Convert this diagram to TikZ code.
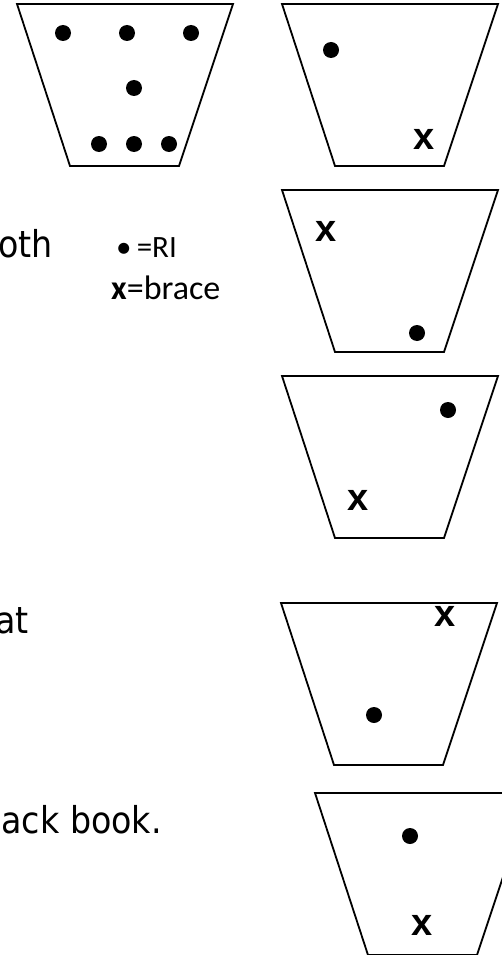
\documentclass[tikz,border=0pt]{standalone}
\usepackage{fontspec}
\setmainfont{DejaVu Sans Condensed}
\newfontfamily\legfont{Carlito}
\newfontfamily\xfont{Liberation Sans}
\newcommand\mytrap[3]{\draw[tray] (#1,#2) coordinate (#3) -- ++(216,0) -- ++(-54,162) -- ++(-109,0) -- cycle;}
\begin{document}
\begin{tikzpicture}[x=1pt,y=-1pt,
  tray/.style={draw=black,line width=1.8pt,line join=miter},
  dot/.style={circle,fill=black,inner sep=0pt,minimum size=16pt},
  bx/.style={inner sep=0pt,font=\xfont\bfseries\fontsize{38}{38}\selectfont},
  big/.style={inner sep=0pt,font=\fontsize{37}{44}\selectfont},
  leg/.style={inner sep=0pt,font=\legfont\fontsize{34}{40}\selectfont}]
\useasboundingbox (0,0) rectangle (502,955);
\clip (0,0) rectangle (502,955);
% trays
\mytrap{17}{4}{t1}
\mytrap{282}{4}{t2}
\mytrap{282}{190}{t3}
\mytrap{282}{376}{t4}
\mytrap{281}{603}{t5}
\mytrap{315}{793}{t6}
% tray 1 dots
\node[dot] (a1) at (63,33) {};
\node[dot] (a2) at (127,33) {};
\node[dot] (a3) at (191,33) {};
\node[dot] (a4) at (134,88) {};
\node[dot] (a5) at (99,144) {};
\node[dot] (a6) at (134,144) {};
\node[dot] (a7) at (169,144) {};
% tray 2
\node[dot] (b1) at (331,50) {};
\node[bx] (b2) at (424,139) {x};
% tray 3
\node[bx] (c2) at (326,231) {x};
\node[dot] (c1) at (417,333) {};
% tray 4
\node[dot] (d1) at (448,410) {};
\node[bx] (d2) at (358,500) {x};
% tray 5
\node[bx] (e2) at (445,616) {x};
\node[dot] (e1) at (374,715) {};
% tray 6
\node[dot] (f1) at (410,836) {};
\node[bx] (f2) at (422,925) {x};
% texts
\node[big,anchor=base east] (s1) at (53,257) {oth};
\node[big,anchor=base east] (s2) at (29,633) {at};
\node[big,anchor=base east] (s3) at (162,833) {ack book.};
% legend
\node[leg,anchor=base west,font=\legfont\fontsize{31}{36}\selectfont] (l1) at (116,257) {•\,=RI};
\node[leg,anchor=base west] (l2) at (111,299) {\textbf{x}=brace};
\end{tikzpicture}
\end{document}
